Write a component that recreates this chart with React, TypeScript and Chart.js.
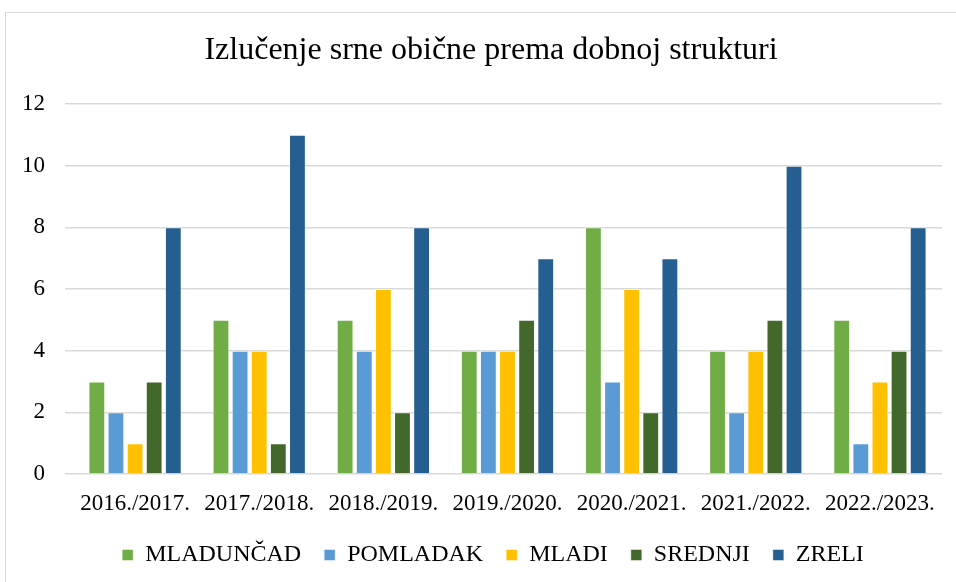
import React, { useEffect, useRef } from "react";
import { Chart, registerables } from "chart.js";

Chart.register(...registerables);

const categories = ["2016./2017.", "2017./2018.", "2018./2019.", "2019./2020.", "2020./2021.", "2021./2022.", "2022./2023."];
const mladuncad = [3, 5, 5, 4, 8, 4, 5];
const pomladak = [2, 4, 4, 4, 3, 2, 1];
const mladi = [1, 4, 6, 4, 6, 4, 3];
const srednji = [3, 1, 2, 5, 2, 5, 4];
const zreli = [8, 11, 8, 7, 7, 10, 8];
const seriesNames = ["MLADUNČAD", "POMLADAK", "MLADI", "SREDNJI", "ZRELI"];
const seriesColors = ["#70AD47", "#5B9BD5", "#FFC000", "#43682B", "#255E91"];
const titleText = "Izlučenje srne obične prema dobnoj strukturi";

const SERIF = "'Liberation Serif', 'Times New Roman', serif";

const centeredTitle = {
  id: "centeredTitle",
  afterUpdate(chart: any) {
    const lg = chart.legend;
    if (lg && typeof lg.adjustHitBoxes === "function") {
      lg.left += 19;
      lg.right += 19;
      lg.adjustHitBoxes();
    }
  },
  afterDraw(chart: any) {
    const ctx = chart.ctx;
    ctx.save();
    ctx.font = `normal 32px ${SERIF}`;
    ctx.fillStyle = "#000";
    ctx.textAlign = "center";
    ctx.textBaseline = "middle";
    ctx.fillText(titleText, chart.width / 2, 38);
    ctx.restore();
  },
};

export default function App() {
  const ref = useRef<HTMLCanvasElement>(null);
  useEffect(() => {
    if (!ref.current) return;
    Chart.defaults.font.family = SERIF;
    const values = [mladuncad, pomladak, mladi, srednji, zreli];
    const chart = new Chart(ref.current, {
      type: "bar",
      data: {
        labels: categories,
        datasets: values.map((v, i) => ({
          label: seriesNames[i],
          data: v,
          backgroundColor: seriesColors[i],
          borderColor: "rgba(255,255,255,0.45)",
          borderWidth: 1,
          categoryPercentage: 0.77,
          barPercentage: 0.88,
        })),
      },
      plugins: [centeredTitle],
      options: {
        responsive: false,
        animation: false,
        layout: { padding: { top: 91, left: 0, right: 34, bottom: 6 } },
        plugins: {
          title: { display: false },
          legend: {
            position: "bottom",
            labels: {
              color: "#000",
              boxWidth: 11,
              boxHeight: 11,
              padding: 23,
              font: { family: SERIF, size: 24 },
            },
          },
          tooltip: { enabled: false },
        },
        scales: {
          x: {
            grid: { display: false },
            border: { display: false },
            ticks: {
              color: "#000",
              padding: 8,
              maxRotation: 0,
              font: { family: SERIF, size: 23 },
            },
            afterFit: (s: any) => {
              s.height = 46;
            },
          },
          y: {
            min: 0,
            max: 12,
            ticks: {
              stepSize: 2,
              color: "#000",
              padding: 20,
              font: { family: SERIF, size: 23 },
            },
            grid: { color: "#d9d9d9", lineWidth: 1.5 },
            border: { display: false },
            afterFit: (s: any) => {
              s.width = 67;
            },
          },
        },
      },
    });
    return () => chart.destroy();
  }, []);
  return (
    <div style={{ position: "fixed", left: 0, top: 0, width: 956, height: 582, overflow: "hidden", background: "#fff" }}>
      <div
        style={{
          position: "absolute",
          left: 5,
          top: 12,
          width: 970,
          height: 575,
          border: "1px solid #d9d9d9",
          background: "#fff",
        }}
      >
        <canvas ref={ref} width={970} height={570} style={{ display: "block" }} />
      </div>
    </div>
  );
}
